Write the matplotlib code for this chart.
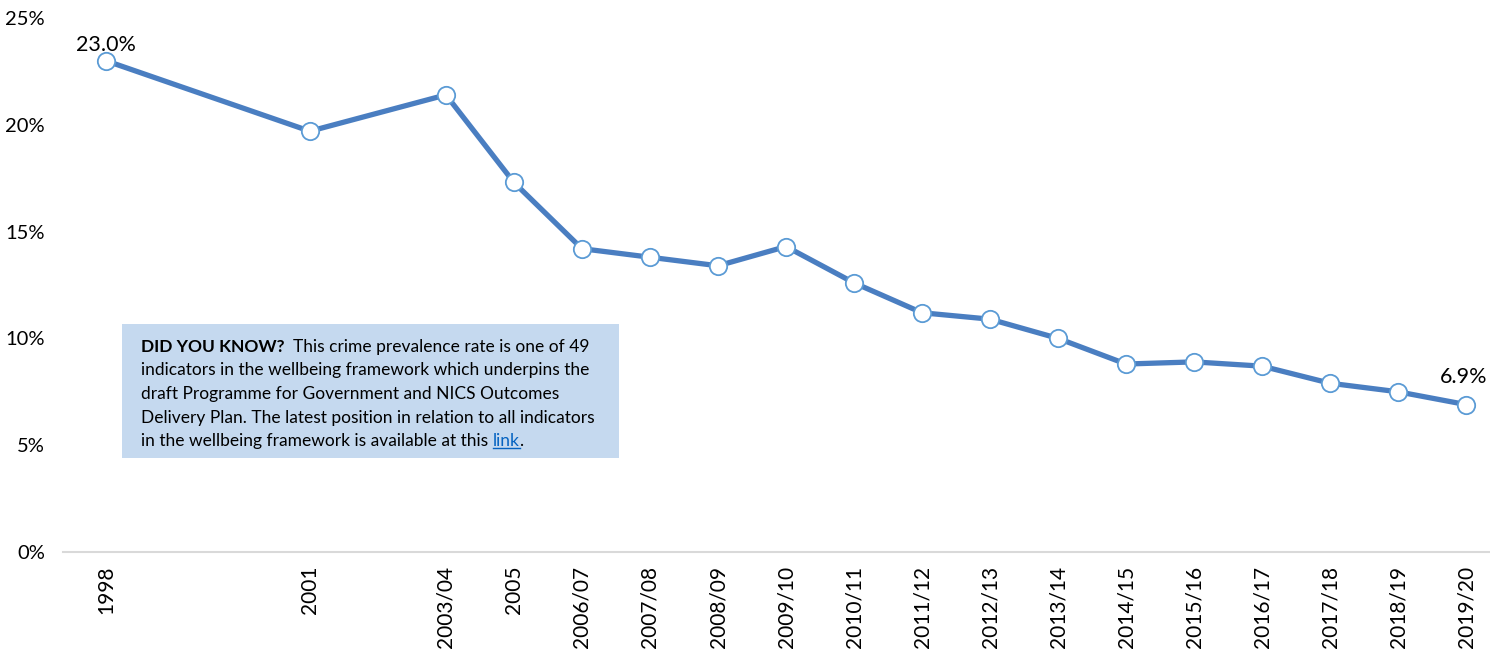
import matplotlib
matplotlib.use("Agg")
import matplotlib.pyplot as plt
from matplotlib.patches import Rectangle
from matplotlib.lines import Line2D

plt.rcParams["font.family"] = ["Lato", "DejaVu Sans"]

# Survey periods, spaced by year (1998 = 0)
periods = ["1998", "2001", "2003/04", "2005", "2006/07", "2007/08", "2008/09",
           "2009/10", "2010/11", "2011/12", "2012/13", "2013/14", "2014/15",
           "2015/16", "2016/17", "2017/18", "2018/19", "2019/20"]
year_pos = [0, 3, 5, 6, 7, 8, 9, 10, 11, 12, 13, 14, 15, 16, 17, 18, 19, 20]
rate = [23.0, 19.7, 21.4, 17.3, 14.2, 13.8, 13.4, 14.3, 12.6, 11.2, 10.9,
        10.0, 8.8, 8.9, 8.7, 7.9, 7.5, 6.9]
y_ticks = [0, 5, 10, 15, 20, 25]

LINE = "#4A7EC1"
EDGE = "#5B9BD5"
BOX = "#C5D9EF"
LINK = "#0563C1"

W, H = 1490, 652
fig = plt.figure(figsize=(W / 100, H / 100), dpi=100)
ax = fig.add_axes([63 / W, 1 - 552 / H, (W - 63) / W, (552 - 18) / H])

ax.plot(year_pos, rate, color=LINE, lw=3.8, zorder=2, solid_capstyle="round")
ax.plot(year_pos, rate, linestyle="none", marker="o", ms=12.5,
        markerfacecolor="white", markeredgecolor=EDGE, markeredgewidth=1.3, zorder=3)

ax.set_xlim(-0.63, 20.35)
ax.set_ylim(0, 25)
ax.set_yticks(y_ticks)
ax.set_yticklabels([f"{v}%" for v in y_ticks], fontsize=14.5)
ax.set_xticks(year_pos)
ax.set_xticklabels(periods, rotation=90, fontsize=15)
ax.tick_params(length=0, pad=10)
ax.tick_params(axis="y", pad=13)

for side in ("top", "right", "left"):
    ax.spines[side].set_visible(False)
ax.spines["bottom"].set_color("#D9D9D9")
ax.spines["bottom"].set_linewidth(1.5)

# first and last values labelled
for i, dy in ((0, 4), (len(rate) - 1, 13)):
    ax.annotate(f"{rate[i]:.1f}%", (year_pos[i], rate[i]), xytext=(-2 if i else 0, dy),
                textcoords="offset points", ha="center", va="bottom", fontsize=15.5)

# information box (positions in figure pixels)
px = lambda x, y: (x / W, 1 - y / H)
ax.add_patch(Rectangle(px(122, 458), (619 - 122) / W, (458 - 324) / H,
                       transform=fig.transFigure, facecolor=BOX,
                       edgecolor="none", zorder=1, clip_on=False))

fs = 12.5
y0 = 347
step = 23.5
body = [
    "indicators in the wellbeing framework which underpins the",
    "draft Programme for Government and NICS Outcomes",
    "Delivery Plan. The latest position in relation to all indicators",
]
bold = fig.text(*px(141, y0), "DID YOU KNOW?", fontsize=fs, fontweight="bold",
                va="center", ha="left")
for k, s in enumerate(body):
    fig.text(*px(141, y0 + step * (k + 1)), s, fontsize=fs, va="center", ha="left")
last = fig.text(*px(141, y0 + step * 4), "in the wellbeing framework is available at this ",
                fontsize=fs, va="center", ha="left")

# place follow-on pieces after measuring their neighbours
fig.canvas.draw()
inv = fig.transFigure.inverted()
bb_bold = bold.get_window_extent().transformed(inv)
fig.text(bb_bold.x1, px(0, y0)[1], "  This crime prevalence rate is one of 49",
         fontsize=fs, va="center", ha="left")

bb_last = last.get_window_extent().transformed(inv)
link = fig.text(bb_last.x1, px(0, y0 + step * 4)[1], "link", fontsize=fs,
                color=LINK, va="center", ha="left")
fig.canvas.draw()
bb_link = link.get_window_extent().transformed(inv)
fig.text(bb_link.x1, px(0, y0 + step * 4)[1], ".", fontsize=fs, va="center", ha="left")
uy = bb_link.y0 + 1.5 / H
fig.add_artist(Line2D([bb_link.x0, bb_link.x1], [uy, uy],
                      transform=fig.transFigure, color=LINK, lw=1))

fig.savefig("out.png", dpi=100)
